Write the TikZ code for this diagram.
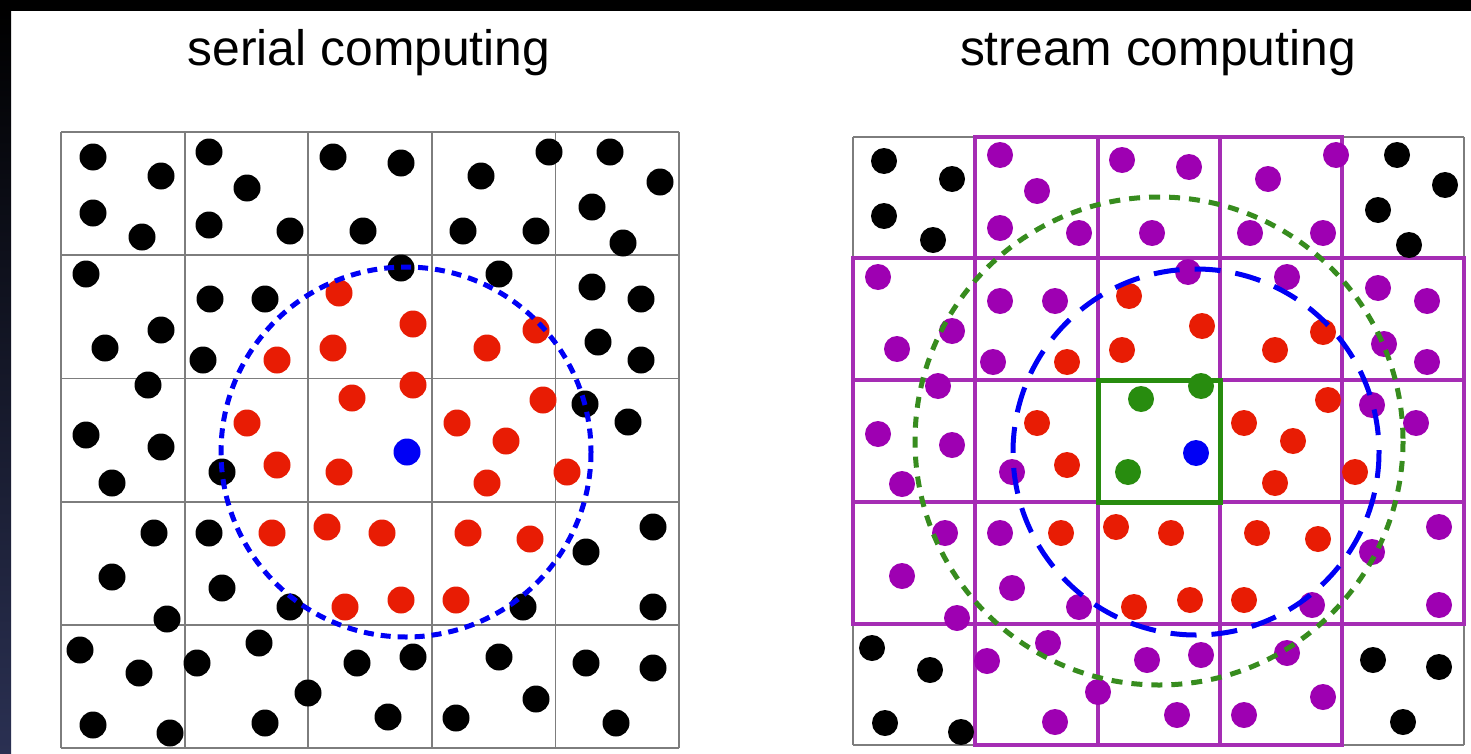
\documentclass[tikz,border=0pt]{standalone}
\usepackage{fontspec}
\setmainfont{Liberation Sans}
\definecolor{dred}{RGB}{232,28,4}
\definecolor{dpurp}{RGB}{158,0,178}
\definecolor{dgreen}{RGB}{40,140,15}
\definecolor{lgreen}{RGB}{55,140,30}
\definecolor{dblue}{RGB}{0,0,245}
\definecolor{gridgray}{RGB}{125,125,125}
\definecolor{gridpurp}{RGB}{165,45,180}
\definecolor{navy}{RGB}{42,48,82}
\begin{document}
\begin{tikzpicture}[x=1bp,y=-1bp,
  title/.style={font=\fontsize{50}{60}\selectfont, anchor=base, inner sep=0pt},
  gray grid/.style={draw=gridgray, line width=1.8bp},
  purp cell/.style={draw=gridpurp, line width=3.5bp},
  green cell/.style={draw=dgreen, line width=5bp},
  bdot/.style={fill=black},
  rdot/.style={fill=dred},
  pdot/.style={fill=dpurp},
  gdot/.style={fill=dgreen},
  udot/.style={fill=dblue},
  serial ring/.style={draw=dblue, line width=5bp, dash pattern=on 10bp off 7bp},
  stream ring/.style={draw=dblue, line width=5bp, dash pattern=on 26bp off 15bp},
  outer ring/.style={draw=lgreen, line width=5bp, dash pattern=on 11bp off 9bp}]
\useasboundingbox (0,0) rectangle (1471,753);
\fill[white] (0,0) rectangle (1471,753);
\fill[black] (0,0) rectangle (1471,11);
\shade[top color=black, bottom color=navy] (0,11) rectangle (11,753);

\node[title] (t1) at (369,66) {serial computing};
\node[title] (t2) at (1158,66) {stream computing};

% ---------- left grid ----------
\foreach \x in {61,184.6,308.2,431.8,555.4,679}
  \draw[gray grid] (\x,132) -- (\x,748);
\foreach \y in {132,255.2,378.4,501.6,624.8,748}
  \draw[gray grid] (61,\y) -- (679,\y);

% ---------- right grid ----------
\foreach \x in {853,975,1098,1220,1342,1464}
  \draw[gray grid] (\x,137) -- (\x,745);
\foreach \y in {137,258,380,502,624,745}
  \draw[gray grid] (853,\y) -- (1464,\y);
% purple cells: rows 2-4 all columns
\foreach \ya/\yb in {258/380,380/502,502/624}
  \foreach \xa/\xb in {853/975,975/1098,1098/1220,1220/1342,1342/1464}
    \draw[purp cell] (\xa,\ya) rectangle (\xb,\yb);
% purple cells: rows 1 and 5, columns 2-4
\foreach \ya/\yb in {137/258,624/745}
  \foreach \xa/\xb in {975/1098,1098/1220,1220/1342}
    \draw[purp cell] (\xa,\ya) rectangle (\xb,\yb);
\draw[green cell] (1098,380) rectangle (1220,502);

% ---------- left dots ----------
\foreach \x/\y in {93/157,161/176,93/213,142/237,209/152,247/188,209/225,290/231,333/157,363/231,401/163,481/176,549/152,610/152,660/182,592/207,463/231,536/231,623/243,
  86/274,210/299,265/299,161/330,105/348,203/360,148/385,401/268,499/274,592/287,641/299,598/342,641/360,585/404,628/422,
  86/435,161/447,112/483,222/472,
  154/533,209/533,112/577,222/588,167/619,290/607,523/607,586/552,653/527,653/607,
  80/650,139/673,197/663,259/643,308/693,93/725,170/733,265/723,357/663,388/717,413/657,499/657,536/699,456/718,586/663,653/668,616/723}
  \fill[bdot] (\x,\y) circle (13.5);
\foreach \x/\y in {339/293,413/324,487/348,536/330,333/348,277/360,413/385,352/398,543/400,247/423,457/423,506/441,277/465,339/472,487/483,567/472,272/533,327/527,382/533,468/533,530/539,345/607,401/600,456/600}
  \fill[rdot] (\x,\y) circle (13.5);
\fill[udot] (407,452) circle (13.5);

% ---------- right dots ----------
\foreach \x/\y in {884/161,952/179,884/216,933/240,1397/155,1445/185,1378/210,1409/245,872/648,930/670,885/723,961/732,1373/660,1439/667,1403/722}
  \fill[bdot] (\x,\y) circle (13);
\foreach \x/\y in {1000/155,1037/191,1000/228,1079/233,1122/160,1152/233,1189/167,1268/179,1336/155,1250/233,1323/233,
  878/277,952/331,897/349,938/386,1000/301,1055/301,993/362,1188/272,1287/277,1378/288,1427/301,1384/344,1427/362,
  878/434,952/445,902/484,1012/472,1372/405,1416/423,
  945/533,902/576,957/618,1000/533,1012/588,1079/607,1312/605,1372/552,1439/527,1439/605,
  987/661,1048/643,1098/692,1055/722,1147/660,1201/655,1177/715,1287/653,1323/697,1244/715}
  \fill[pdot] (\x,\y) circle (13);
\foreach \x/\y in {1067/362,1129/296,1122/350,1202/326,1323/332,1275/350,
  1037/423,1067/465,1328/400,1244/423,1293/441,1275/483,1355/472,
  1061/533,1116/527,1134/607,1171/533,1190/600,1257/533,1318/539,1244/600}
  \fill[rdot] (\x,\y) circle (13);
\foreach \x/\y in {1141/399,1201/386,1128/472}
  \fill[gdot] (\x,\y) circle (13);
\fill[udot] (1196,453) circle (13);

% ---------- dashed rings ----------
\coordinate (c1) at (406,452);
\coordinate (c2) at (1196,452);
\coordinate (c3) at (1159,441);
\draw[serial ring] (c1) circle (185);
\draw[stream ring] (c2) circle (183);
\draw[outer ring] (c3) circle (244);
\end{tikzpicture}
\end{document}
